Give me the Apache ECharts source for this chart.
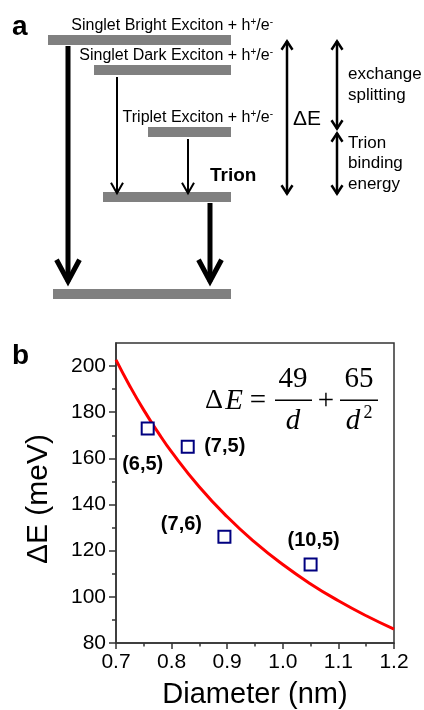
<!DOCTYPE html>
<html>
<head>
<meta charset="utf-8">
<script src="https://cdn.jsdelivr.net/npm/echarts@6/dist/echarts.min.js"></script>
<style>
  html, body { margin: 0; padding: 0; background: #fff; }
  #chart { width: 424px; height: 710px; }
</style>
</head>
<body>
<div id="chart"></div>
<script>
// ---- Panel a: energy-level scheme (energies in arbitrary units) ----
const levelNames = ['Singlet Bright Exciton', 'Singlet Dark Exciton', 'Triplet Exciton', 'Trion', 'Ground'];
const levelEnergy = [254, 224, 162, 97, 0];
const levelStart = [48, 94, 148, 103, 53];
const levelEnd = [231, 231, 231, 231, 231];

// Optical transitions between levels: [from, to]
const transitions = [[0, 4], [1, 3], [2, 3], [3, 4]];
const transitionX = [68, 117, 188, 210];
const transitionBright = [true, false, false, true];

// Energy gaps marked by double arrows: [upper level, lower level]
const gapPairs = [[0, 3], [0, 2], [2, 3]];
const gapX = [287, 337, 337];
const gapLabels = ['ΔE', 'exchange\nsplitting', 'Trion\nbinding\nenergy'];

// ---- Panel b: ΔE versus nanotube diameter ----
const curveDiameter = [0.70, 0.725, 0.75, 0.775, 0.80, 0.85, 0.90, 0.95, 1.00, 1.05, 1.10, 1.15, 1.20];
const curveDeltaE = [202.7, 191.3, 180.9, 171.5, 162.8, 147.6, 134.7, 123.6, 114.0, 105.6, 98.3, 91.8, 86.0];

const tubeChirality = ['(6,5)', '(7,5)', '(7,6)', '(10,5)'];
const tubeDiameter = [0.757, 0.829, 0.895, 1.05];
const tubeDeltaE = [173, 165, 126, 114];

const xTicks = [0.7, 0.8, 0.9, 1.0, 1.1, 1.2];
const yTicks = [80, 100, 120, 140, 160, 180, 200];
const yMinorTicks = [90, 110, 130, 150, 170, 190];

const SANS = '"Liberation Sans", Arial, sans-serif';
const SERIF = '"Liberation Serif", "Times New Roman", serif';
const AXIS_COLOR = '#333';

const chart = echarts.init(document.getElementById('chart'), null, { renderer: 'canvas' });

// Superscript charge labels "h+/e-"
function levelLabel(name) {
  return '{t|' + name + ' + h}{s|+}{t|/e}{s|-}';
}

function renderLevel(params, api) {
  const i = params.dataIndex;
  const e = api.value(2);
  const p1 = api.coord([api.value(0), e]);
  const p2 = api.coord([api.value(1), e]);
  const children = [{
    type: 'rect',
    shape: { x: p1[0], y: p1[1] - 5, width: p2[0] - p1[0], height: 10 },
    style: { fill: '#808080' }
  }];
  const name = levelNames[i];
  if (name === 'Trion') {
    children.push({
      type: 'text', x: p2[0] - 21, y: p1[1] - 21,
      style: { text: 'Trion', font: 'bold 19px ' + SANS, fill: '#000', align: 'left', verticalAlign: 'middle' }
    });
  } else if (name !== 'Ground') {
    children.push({
      type: 'text', x: p2[0] + 42, y: p1[1] - 14,
      style: {
        text: levelLabel(name), align: 'right', verticalAlign: 'middle',
        rich: {
          t: { fontSize: 16, fontFamily: SANS, fill: '#000', lineHeight: 18 },
          s: { fontSize: 10, fontFamily: SANS, fill: '#000', verticalAlign: 'top', lineHeight: 10 }
        }
      }
    });
  }
  return { type: 'group', children: children };
}

function chevron(tip, dir, hw, hh, lw) {
  // dir = 1 points down, -1 points up; shift so the stroked tip lands on `tip`
  const ext = (lw / 2) / Math.sin(Math.atan2(hw, hh));
  const ty = tip[1] - dir * ext;
  return {
    type: 'polyline',
    shape: { points: [[tip[0] - hw, ty - dir * hh], [tip[0], ty], [tip[0] + hw, ty - dir * hh]] },
    style: { stroke: '#000', lineWidth: lw, fill: null, lineJoin: 'miter', lineCap: 'butt' }
  };
}

function renderTransition(params, api) {
  const bright = api.value(3) === 1;
  const top = api.coord([api.value(0), api.value(1)]);
  const bot = api.coord([api.value(0), api.value(2)]);
  const lw = bright ? 5 : 2;
  const hw = bright ? 11.5 : 6;
  const hh = bright ? 21.5 : 10.5;
  const startY = top[1] + (bright ? 6 : 7);
  const tipY = bright ? bot[1] - 7.5 : bot[1] - 1.7;
  return {
    type: 'group',
    children: [
      { type: 'line', shape: { x1: top[0], y1: startY, x2: top[0], y2: tipY - lw }, style: { stroke: '#000', lineWidth: lw } },
      chevron([top[0], tipY], 1, hw, hh, lw)
    ]
  };
}

function renderGap(params, api) {
  const i = params.dataIndex;
  const top = api.coord([api.value(0), api.value(1)]);
  const bot = api.coord([api.value(0), api.value(2)]);
  const lw = 2.5;
  const t = top[1] - 1;
  const b = bot[1] - 1;
  const isDelta = gapLabels[i] === 'ΔE';
  return {
    type: 'group',
    children: [
      { type: 'line', shape: { x1: top[0], y1: t + 2, x2: top[0], y2: b - 2 }, style: { stroke: '#000', lineWidth: lw } },
      chevron([top[0], t], -1, 5.5, 8.5, lw),
      chevron([top[0], b], 1, 5.5, 8.5, lw),
      {
        type: 'text', x: top[0] + (isDelta ? 6 : 11), y: (t + b) / 2 + (isDelta ? 2 : 0),
        style: {
          text: gapLabels[i], fill: '#000', align: 'left', verticalAlign: 'middle',
          font: (isDelta ? 21 : 17) + 'px ' + SANS, lineHeight: 20.5
        }
      }
    ]
  };
}

const tubeLabelOffset = [[-5, 36], [37, 0], [-43, -12], [3, -24]];

const axisLine = { show: true, lineStyle: { color: AXIS_COLOR, width: 1.5 } };

const option = {
  animation: false,
  backgroundColor: '#fff',
  grid: [
    { left: 116, right: 30, top: 343, bottom: 65, show: true, borderColor: AXIS_COLOR, borderWidth: 1.5, backgroundColor: 'transparent' },
    { left: 0, top: 0, width: 424, height: 330 }
  ],
  xAxis: [
    {
      type: 'value', gridIndex: 0,
      min: xTicks[0], max: xTicks[xTicks.length - 1], interval: 0.1,
      axisLine: axisLine,
      axisTick: { show: true, inside: false, length: 6, lineStyle: { color: AXIS_COLOR, width: 1.5 } },
      minorTick: { show: true, splitNumber: 2, length: 3.5, lineStyle: { color: AXIS_COLOR, width: 1.5 } },
      splitLine: { show: false },
      axisLabel: { fontSize: 21, fontFamily: SANS, color: '#000', margin: 9, formatter: v => v.toFixed(1) },
      name: 'Diameter (nm)', nameLocation: 'middle', nameGap: 37,
      nameTextStyle: { fontSize: 29, fontFamily: SANS, color: '#000' }
    },
    { type: 'value', gridIndex: 1, min: 0, max: 424, show: false }
  ],
  yAxis: [
    {
      type: 'value', gridIndex: 0,
      min: yTicks[0], max: 210, interval: 20,
      axisLine: axisLine,
      axisTick: { show: true, inside: false, length: 7, customValues: yTicks, lineStyle: { color: AXIS_COLOR, width: 1.5 } },
      splitLine: { show: false },
      axisLabel: { fontSize: 21, fontFamily: SANS, color: '#000', margin: 10, customValues: yTicks },
      name: 'ΔE (meV)', nameLocation: 'middle', nameGap: 62,
      nameTextStyle: { fontSize: 30, fontFamily: SANS, color: '#000', padding: [0, 12, 0, 0] }
    },
    { type: 'value', gridIndex: 1, min: -36, max: 294, show: false },
    {
      // minor ticks of the ΔE axis
      type: 'value', gridIndex: 0, position: 'left',
      min: yTicks[0], max: 210, interval: 20,
      axisLine: { show: false },
      axisTick: { show: true, inside: false, length: 4, customValues: yMinorTicks, lineStyle: { color: AXIS_COLOR, width: 1.5 } },
      axisLabel: { show: false },
      splitLine: { show: false }
    }
  ],
  graphic: [
    { type: 'text', x: 12, y: 27, style: { text: 'a', font: 'bold 28px ' + SANS, fill: '#000', align: 'left', verticalAlign: 'middle' } },
    { type: 'text', x: 12, y: 356, style: { text: 'b', font: 'bold 28px ' + SANS, fill: '#000', align: 'left', verticalAlign: 'middle' } },
    // ΔE = 49/d + 65/d²
    { type: 'text', x: 214, y: 401, style: { text: 'Δ', font: '28px ' + SERIF, fill: '#000', align: 'center', verticalAlign: 'middle' } },
    { type: 'text', x: 234, y: 401, style: { text: 'E', font: 'italic 29px ' + SERIF, fill: '#000', align: 'center', verticalAlign: 'middle' } },
    { type: 'text', x: 258, y: 401, style: { text: '=', font: '29px ' + SERIF, fill: '#000', align: 'center', verticalAlign: 'middle' } },
    { type: 'text', x: 293, y: 379, style: { text: '49', font: '29px ' + SERIF, fill: '#000', align: 'center', verticalAlign: 'middle' } },
    { type: 'rect', shape: { x: 275, y: 399.5, width: 37, height: 1.4 }, style: { fill: '#000' } },
    { type: 'text', x: 293, y: 421, style: { text: 'd', font: 'italic 29px ' + SERIF, fill: '#000', align: 'center', verticalAlign: 'middle' } },
    { type: 'text', x: 326, y: 401, style: { text: '+', font: '29px ' + SERIF, fill: '#000', align: 'center', verticalAlign: 'middle' } },
    { type: 'text', x: 359, y: 379, style: { text: '65', font: '29px ' + SERIF, fill: '#000', align: 'center', verticalAlign: 'middle' } },
    { type: 'rect', shape: { x: 340, y: 399.5, width: 38, height: 1.4 }, style: { fill: '#000' } },
    { type: 'text', x: 353, y: 421, style: { text: 'd', font: 'italic 29px ' + SERIF, fill: '#000', align: 'center', verticalAlign: 'middle' } },
    { type: 'text', x: 368, y: 413, style: { text: '2', font: '18px ' + SERIF, fill: '#000', align: 'center', verticalAlign: 'middle' } }
  ],
  series: [
    {
      type: 'line', xAxisIndex: 0, yAxisIndex: 0,
      data: curveDiameter.map((d, i) => [d, curveDeltaE[i]]),
      smooth: true, showSymbol: false, symbol: 'none',
      lineStyle: { color: '#ff0000', width: 3 },
      z: 2
    },
    {
      type: 'scatter', xAxisIndex: 0, yAxisIndex: 0,
      data: tubeDiameter.map((d, i) => ({ value: [d, tubeDeltaE[i]], label: { offset: tubeLabelOffset[i] } })),
      symbol: 'rect', symbolSize: 12,
      itemStyle: { color: '#fff', borderColor: '#000080', borderWidth: 2, opacity: 1 },
      label: {
        show: true, position: 'inside',
        formatter: p => tubeChirality[p.dataIndex],
        fontSize: 20, fontWeight: 'bold', fontFamily: SANS, color: '#000',
        textBorderWidth: 0
      },
      z: 3
    },
    {
      type: 'custom', xAxisIndex: 1, yAxisIndex: 1,
      data: levelNames.map((n, i) => [levelStart[i], levelEnd[i], levelEnergy[i]]),
      encode: { x: [0, 1], y: 2 },
      renderItem: renderLevel, clip: false, z: 1
    },
    {
      type: 'custom', xAxisIndex: 1, yAxisIndex: 1,
      data: transitions.map((t, i) => [transitionX[i], levelEnergy[t[0]], levelEnergy[t[1]], transitionBright[i] ? 1 : 0]),
      encode: { x: 0, y: [1, 2] },
      renderItem: renderTransition, clip: false, z: 2
    },
    {
      type: 'custom', xAxisIndex: 1, yAxisIndex: 1,
      data: gapPairs.map((g, i) => [gapX[i], levelEnergy[g[0]], levelEnergy[g[1]]]),
      encode: { x: 0, y: [1, 2] },
      renderItem: renderGap, clip: false, z: 2
    }
  ]
};

chart.setOption(option);
</script>
</body>
</html>
